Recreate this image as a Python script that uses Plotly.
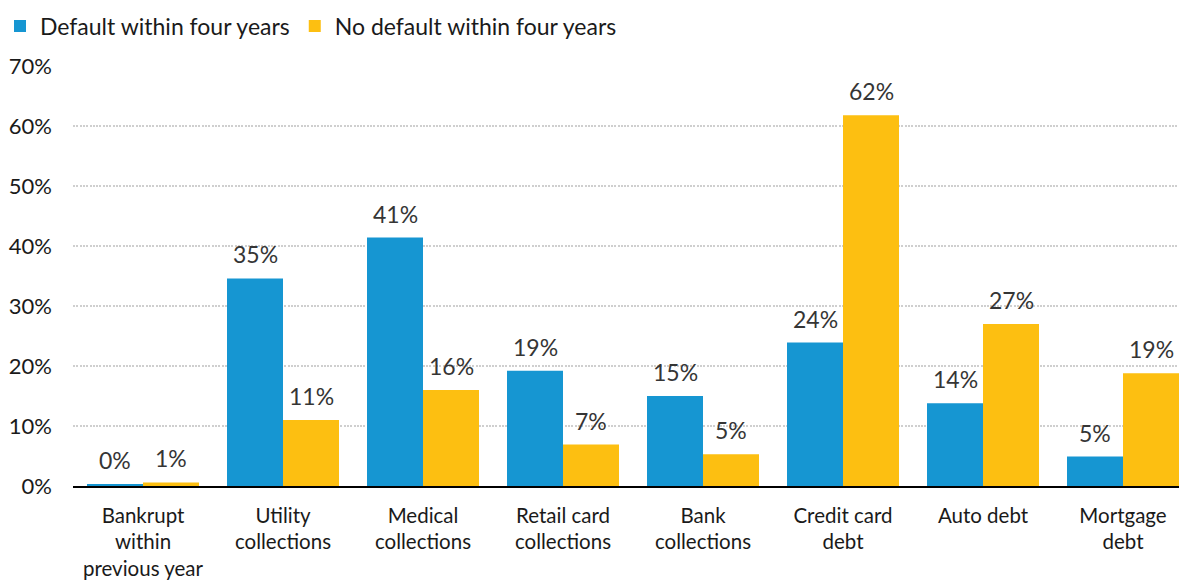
import plotly.graph_objects as go

categories = [
    "Bankrupt<br>within<br>previous year",
    "Utility<br>collections",
    "Medical<br>collections",
    "Retail card<br>collections",
    "Bank<br>collections",
    "Credit card<br>debt",
    "Auto debt",
    "Mortgage<br>debt",
]
default_share = [0.3, 34.6, 41.4, 19.2, 15.0, 23.9, 13.8, 4.9]
no_default_share = [0.6, 11.0, 16.0, 6.9, 5.3, 61.8, 27.0, 18.8]
y_ticks = [0, 10, 20, 30, 40, 50, 60, 70]
y_tick_labels = [f"{v}%" for v in y_ticks]

BLUE = "#1696d2"
YELLOW = "#fdbf11"
FONT = "Lato, 'Open Sans', sans-serif"
TEXT = "#1a1a1a"

x_pos = list(range(len(categories)))

fig = go.Figure()
fig.add_trace(go.Bar(
    x=x_pos, y=default_share, name="Default within four years",
    marker=dict(color=BLUE, line=dict(width=0)),
))
fig.add_trace(go.Bar(
    x=x_pos, y=no_default_share, name="No default within four years",
    marker=dict(color=YELLOW, line=dict(width=0)),
))

# value labels above each bar, offset within its group
annotations = []
for series, offset in ((default_share, -0.2), (no_default_share, 0.2)):
    for i, v in enumerate(series):
        annotations.append(dict(
            x=x_pos[i] + offset, y=v, xref="x", yref="y",
            text=f"{round(v):d}%", showarrow=False,
            yanchor="bottom", xanchor="center", yshift=8,
            font=dict(family=FONT, size=23, color="#353535"),
        ))

fig.update_layout(
    width=1179, height=582,
    margin=dict(l=73, r=0, t=66, b=96, autoexpand=False),
    paper_bgcolor="white", plot_bgcolor="white",
    barmode="group", bargap=0.2, bargroupgap=0,
    font=dict(family=FONT, size=22, color=TEXT),
    showlegend=True,
    legend=dict(
        orientation="h", x=0, y=0.992, xref="container", yref="container",
        xanchor="left", yanchor="top",
        font=dict(family=FONT, size=23, color=TEXT),
        bgcolor="rgba(0,0,0,0)", traceorder="normal",
        itemwidth=30, tracegroupgap=0,
    ),
    annotations=annotations,
    xaxis=dict(
        range=[-0.5, 7.4], automargin=False,
        tickmode="array", tickvals=x_pos, ticktext=categories,
        showgrid=False, zeroline=False,
        showline=True, linecolor="#000000", linewidth=2,
        ticks="", tickfont=dict(family=FONT, size=20.5, color=TEXT),
        ticklabelstandoff=10,
    ),
    yaxis=dict(
        range=[0, 70], automargin=False,
        tickmode="array", tickvals=y_ticks, ticktext=y_tick_labels,
        showgrid=True, gridcolor="#cfcfcf", gridwidth=2, griddash="2px,1.3px",
        zeroline=False, showline=False, ticks="",
        tickfont=dict(family=FONT, size=22, color=TEXT),
        ticklabelstandoff=20,
    ),
)

fig.write_html("out.html")
